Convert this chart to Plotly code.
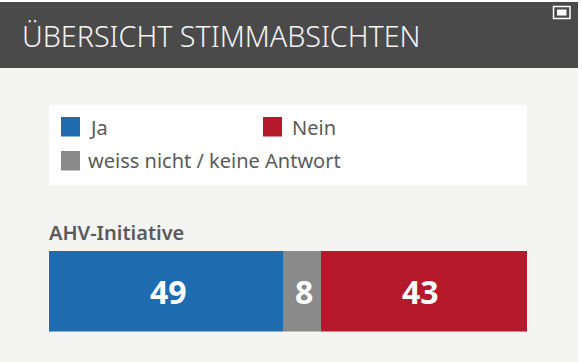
import plotly.graph_objects as go

title = "ÜBERSICHT STIMMABSICHTEN"
question = ["AHV-Initiative"]
series_names = ["Ja", "weiss nicht / keine Antwort", "Nein"]
ja_values = [49]
unknown_values = [8]
nein_values = [43]
colors = ["#1F6BB0", "#8A8A8A", "#B5192B"]

W, H = 582, 362
def px(x): return x / W
def py(y): return 1 - y / H

fig = go.Figure()
for name, vals, c in zip(series_names, [ja_values, unknown_values, nein_values], colors):
    fig.add_bar(x=vals, y=question, orientation="h", name=name, marker=dict(color=c, line=dict(width=0)),
                showlegend=False)

shapes = [
    dict(type="rect", xref="paper", yref="paper", x0=0, x1=px(578), y0=py(68), y1=py(2), fillcolor="#4A4A4A", line_width=0, layer="below"),
    dict(type="rect", xref="paper", yref="paper", x0=px(578), x1=1, y0=0, y1=1, fillcolor="#FFFFFF", line_width=0, layer="below"),
    dict(type="rect", xref="paper", yref="paper", x0=0, x1=1, y0=py(2), y1=1, fillcolor="#FFFFFF", line_width=0, layer="below"),
    dict(type="rect", xref="paper", yref="paper", x0=px(49), x1=px(527), y0=py(185), y1=py(105), fillcolor="#FFFFFF", line_width=0, layer="below"),
    dict(type="rect", xref="paper", yref="paper", x0=px(553.5), x1=px(570), y0=py(18.5), y1=py(6.5), fillcolor="rgba(0,0,0,0)", line=dict(color="white", width=1.5)),
    dict(type="rect", xref="paper", yref="paper", x0=px(557), x1=px(566.5), y0=py(15.5), y1=py(9.5), fillcolor="white", line_width=0),
]
swatches = [(61, 117, colors[0]), (263, 117, colors[2]), (61, 151, colors[1])]
for x, y, c in swatches:
    shapes.append(dict(type="rect", xref="paper", yref="paper", x0=px(x), x1=px(x + 19), y0=py(y + 19.5), y1=py(y),
                       fillcolor=c, line_width=0))

def label(x, y, text, size, color, family="Noto Sans", weight=400):
    return dict(xref="paper", yref="paper", x=px(x), y=py(y), text=text, showarrow=False, xanchor="left", yanchor="middle",
                font=dict(family=family, size=size, color=color, weight=weight), borderpad=0, borderwidth=0)

annotations = [
    label(22, 36, title, 28.7, "#F4F4F4", weight=300),
    label(89, 127, series_names[0], 20, "#5A5A5A"),
    label(292, 127, series_names[2], 20, "#5A5A5A"),
    label(88, 161, series_names[1], 20, "#5A5A5A"),
    label(49, 232, question[0], 20, "#5A5A5A", weight=600),
]

# value labels, centred on each segment with the small offsets seen in the reference
start = 0
for vals, shift in zip([ja_values, unknown_values, nein_values], [2, 2, -4]):
    v = vals[0]
    annotations.append(dict(xref="x", yref="y", x=start + v / 2, y=question[0], text=str(v), showarrow=False,
                            xshift=shift, yshift=0,
                            font=dict(family="Noto Sans", size=32, color="white", weight=700)))
    start += v

fig.update_layout(
    width=W, height=H, margin=dict(l=0, r=0, t=0, b=0), barmode="stack", bargap=0,
    paper_bgcolor="#F4F4F3", plot_bgcolor="rgba(0,0,0,0)",
    xaxis=dict(domain=[px(49), px(527)], range=[0, 100], visible=False, fixedrange=True),
    yaxis=dict(domain=[py(331.5), py(251)], visible=False, fixedrange=True),
    shapes=shapes, annotations=annotations,
)
fig.write_html("out.html", config={"displayModeBar": False},
               post_script="document.body.style.margin='0';document.documentElement.style.overflow='hidden';")
